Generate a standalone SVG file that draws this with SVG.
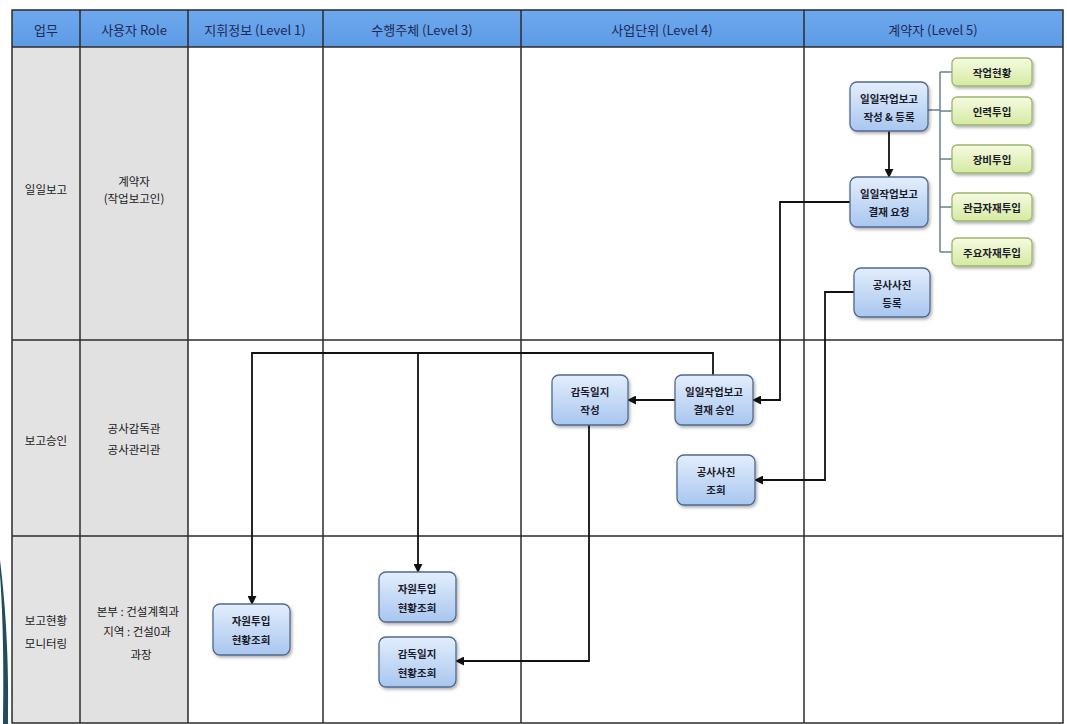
<svg xmlns="http://www.w3.org/2000/svg" width="1067" height="724" viewBox="0 0 1067 724">
<defs>
<linearGradient id="gBlue" x1="0" y1="0" x2="0" y2="1">
<stop offset="0" stop-color="#e3eefc"/>
<stop offset="1" stop-color="#a8c6ef"/>
</linearGradient>
<linearGradient id="gGreen" x1="0" y1="0" x2="0" y2="1">
<stop offset="0" stop-color="#f6fbe2"/>
<stop offset="1" stop-color="#d5e9a0"/>
</linearGradient>
<linearGradient id="gHead" x1="0" y1="0" x2="0" y2="1">
<stop offset="0" stop-color="#6ea9ee"/>
<stop offset="1" stop-color="#5d9be6"/>
</linearGradient>
<filter id="sh" x="-20%" y="-20%" width="140%" height="150%">
<feDropShadow dx="1.5" dy="2" stdDeviation="1.5" flood-color="#000" flood-opacity="0.3"/>
</filter>
<marker id="arr" viewBox="0 0 10 10" refX="9" refY="5" markerWidth="9" markerHeight="9" markerUnits="userSpaceOnUse" orient="auto">
<path d="M0,0 L10,5 L0,10 z" fill="#111"/>
</marker>
<style>
.hd{font-family:"Noto Sans CJK KR","Liberation Sans",sans-serif;font-size:13px;fill:#1c2a55;text-anchor:middle;dominant-baseline:central}
.lb{font-family:"Noto Sans CJK KR","Liberation Sans",sans-serif;font-size:11.5px;fill:#1a1a1a;text-anchor:middle;dominant-baseline:central}
.nt{font-family:"Noto Sans CJK KR","Liberation Sans",sans-serif;font-size:10.5px;font-weight:bold;fill:#1b1b2b;text-anchor:middle;dominant-baseline:central}
.bn{fill:url(#gBlue);stroke:#50698f;stroke-width:1.3;filter:url(#sh)}
.gn{fill:url(#gGreen);stroke:#9db56e;stroke-width:1.3;filter:url(#sh)}
.grid{stroke:#2b2b2b;stroke-width:1.5;fill:none}
.cn{stroke:#111;stroke-width:1.8;fill:none}
.br{stroke:#6d7f90;stroke-width:1.5;fill:none}
</style>
</defs>
<rect x="0" y="0" width="1067" height="724" fill="#ffffff"/>
<!-- decorative swoosh -->
<path d="M0,560 C6,610 9,660 8,724 L3,724 C4,670 3,615 0,575 z" fill="#1f4d5e"/>
<!-- header -->
<rect x="12" y="10" width="1051" height="37" fill="url(#gHead)"/>
<!-- gray columns -->
<rect x="12" y="47" width="68" height="676" fill="#e3e3e3"/>
<rect x="80" y="47" width="108" height="676" fill="#e1e1e1"/>
<!-- grid -->
<g id="grid">
<rect class="grid" x="12" y="10" width="1051" height="713"/>
<line class="grid" x1="12" y1="47" x2="1063" y2="47"/>
<line class="grid" x1="12" y1="340" x2="1063" y2="340"/>
<line class="grid" x1="12" y1="536" x2="1063" y2="536"/>
<line class="grid" x1="80" y1="10" x2="80" y2="723"/>
<line class="grid" x1="188" y1="10" x2="188" y2="723"/>
<line class="grid" x1="323" y1="10" x2="323" y2="723"/>
<line class="grid" x1="521" y1="10" x2="521" y2="723"/>
<line class="grid" x1="804" y1="10" x2="804" y2="723"/>
</g>
<g id="headers">
<text class="hd" x="46" y="29">업무</text>
<text class="hd" x="134" y="29">사용자 Role</text>
<text class="hd" x="255" y="29">지휘정보 (Level 1)</text>
<text class="hd" x="422" y="29">수행주체 (Level 3)</text>
<text class="hd" x="662" y="29">사업단위 (Level 4)</text>
<text class="hd" x="933" y="29">계약자 (Level 5)</text>
</g>
<g id="rowlabels">
<text class="lb" x="46" y="189">일일보고</text>
<text class="lb" x="134" y="181">계약자</text>
<text class="lb" x="134" y="198">(작업보고인)</text>
<text class="lb" x="46" y="440">보고승인</text>
<text class="lb" x="134" y="428">공사감독관</text>
<text class="lb" x="134" y="449">공사관리관</text>
<text class="lb" x="46" y="620">보고현황</text>
<text class="lb" x="46" y="643">모니터링</text>
<text class="lb" x="138" y="611">본부 : 건설계획과</text>
<text class="lb" x="137" y="631">지역 : 건설0과</text>
<text class="lb" x="141" y="654">과장</text>
</g>
<g id="connectors">
<path class="br" d="M928,110 H940 M940,72 V252 M940,72 H952 M940,111 H952 M940,159 H952 M940,207 H952 M940,252 H952"/>
<path class="cn" d="M889,131 V177" marker-end="url(#arr)"/>
<path class="cn" d="M850,202 H780 V400 H753" marker-end="url(#arr)"/>
<path class="cn" d="M854,292 H825 V480 H755" marker-end="url(#arr)"/>
<path class="cn" d="M675,400 H628" marker-end="url(#arr)"/>
<path class="cn" d="M713,375 V353 H252 V604" marker-end="url(#arr)"/>
<path class="cn" d="M418,353 V572" marker-end="url(#arr)"/>
<path class="cn" d="M589,425 V661 H456" marker-end="url(#arr)"/>
</g>
<g id="n_report_write"><rect class="bn" x="850" y="82" width="78" height="49" rx="7"/><text class="nt" x="889" y="98">일일작업보고</text><text class="nt" x="889" y="116">작성 &amp; 등록</text></g>
<g id="n_report_request"><rect class="bn" x="850" y="177" width="78" height="50" rx="7"/><text class="nt" x="889" y="193">일일작업보고</text><text class="nt" x="889" y="211">결재 요청</text></g>
<g id="n_photo_reg"><rect class="bn" x="854" y="268" width="76" height="49" rx="7"/><text class="nt" x="892" y="284">공사사진</text><text class="nt" x="892" y="302">등록</text></g>
<g id="g_work"><rect class="gn" x="952" y="58" width="80" height="28" rx="5"/><text class="nt" x="992" y="72">작업현황</text></g>
<g id="g_labor"><rect class="gn" x="952" y="97" width="80" height="28" rx="5"/><text class="nt" x="992" y="111">인력투입</text></g>
<g id="g_equip"><rect class="gn" x="952" y="145" width="80" height="28" rx="5"/><text class="nt" x="992" y="159">장비투입</text></g>
<g id="g_govmat"><rect class="gn" x="952" y="193" width="80" height="28" rx="5"/><text class="nt" x="992" y="207">관급자재투입</text></g>
<g id="g_mainmat"><rect class="gn" x="952" y="238" width="80" height="28" rx="5"/><text class="nt" x="992" y="252">주요자재투입</text></g>
<g id="n_approve"><rect class="bn" x="675" y="375" width="78" height="50" rx="7"/><text class="nt" x="714" y="391">일일작업보고</text><text class="nt" x="714" y="409">결재 승인</text></g>
<g id="n_diary_write"><rect class="bn" x="552" y="375" width="76" height="50" rx="7"/><text class="nt" x="590" y="391">감독일지</text><text class="nt" x="590" y="409">작성</text></g>
<g id="n_photo_view"><rect class="bn" x="677" y="455" width="78" height="50" rx="7"/><text class="nt" x="716" y="471">공사사진</text><text class="nt" x="716" y="489">조회</text></g>
<g id="n_res_l1"><rect class="bn" x="213" y="604" width="77" height="51" rx="7"/><text class="nt" x="251" y="620">자원투입</text><text class="nt" x="251" y="639">현황조회</text></g>
<g id="n_res_l3"><rect class="bn" x="379" y="572" width="77" height="50" rx="7"/><text class="nt" x="417" y="588">자원투입</text><text class="nt" x="417" y="607">현황조회</text></g>
<g id="n_diary_l3"><rect class="bn" x="379" y="637" width="77" height="50" rx="7"/><text class="nt" x="417" y="653">감독일지</text><text class="nt" x="417" y="672">현황조회</text></g>
</svg>
